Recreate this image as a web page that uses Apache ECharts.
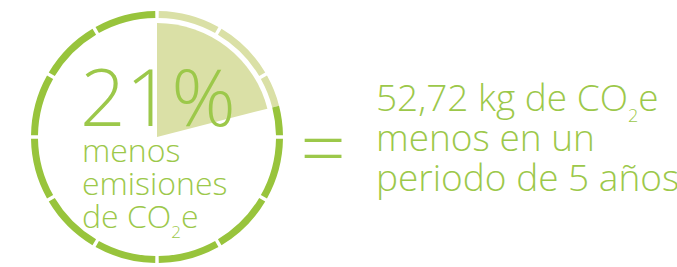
<!DOCTYPE html>
<html>
<head>
<meta charset="utf-8">
<script src="https://cdn.jsdelivr.net/npm/echarts@6/dist/echarts.min.js"></script>
<style>
	html, body { margin: 0; padding: 0; background: #fff; }
	#chart { width: 677px; height: 267px; }
</style>
</head>
<body>
<div id="chart"></div>
<script>
// valores
const share = 21; // % menos emisiones
const ringSegments = 12;
const headline = share + "%";
const leftLines = ["menos", "emisiones", "de CO{sub|2}e"];
const rightLines = ["52,72 kg de CO{sub|2}e", "menos en un", "periodo de 5 años"];

const dark = "#98c43c";
const light = "#dae0a6";
const textColor = "#9cc84a";
const font = "'Open Sans', Roboto, sans-serif";

// anillo segmentado: 12 tramos con huecos, parte clara hasta el porcentaje
function ringData() {
	var gap = 1.6;
	var step = 360 / ringSegments;
	var cut = (share / 100) * 360;
	var res = [];
	var hole = { value: gap / 2, itemStyle: { color: "transparent" } };
	for (let i = 0; i < ringSegments; i++) {
		var a = i * step + gap / 2;
		var b = (i + 1) * step - gap / 2;
		res.push(hole);
		if (cut > a && cut < b) {
			res.push({ value: cut - a, itemStyle: { color: light } });
			res.push({ value: b - cut, itemStyle: { color: dark } });
		} else {
			res.push({ value: b - a, itemStyle: { color: b <= cut ? light : dark } });
		}
		res.push(hole);
	}
	return res;
}

var center = [157, 137];

var option = {
	animation: false,
	series: [
		{
			type: "pie",
			silent: true,
			center: center,
			radius: [0, 114],
			startAngle: 90,
			clockwise: true,
			label: { show: false },
			labelLine: { show: false },
			itemStyle: { borderWidth: 0 },
			data: [
				{ value: share, itemStyle: { color: light } },
				{ value: 100 - share, itemStyle: { color: "transparent" } },
			],
		},
		{
			type: "pie",
			silent: true,
			center: center,
			radius: [119, 126],
			startAngle: 90,
			clockwise: true,
			label: { show: false },
			labelLine: { show: false },
			itemStyle: { borderWidth: 0 },
			data: ringData(),
		},
	],
	graphic: [
		{
			type: "text",
			z: 100,
			x: 80,
			y: 94,
			style: {
				text: headline,
				fill: textColor,
				font: "300 80px " + font,
				verticalAlign: "middle",
			},
		},
		{
			type: "text",
			z: 100,
			x: 82,
			y: 133,
			style: {
				text: leftLines.join("\n"),
				fill: textColor,
				font: "300 32px " + font,
				lineHeight: 33,
				verticalAlign: "top",
				rich: {
					sub: { font: "300 17px " + font, fill: textColor, verticalAlign: "top", padding: [24, 0, 0, 0], lineHeight: 4 },
				},
			},
		},
		{
			type: "text",
			z: 100,
			x: 323,
			y: 144,
			style: {
				text: "=",
				fill: textColor,
				font: "300 80px " + font,
				align: "center",
				verticalAlign: "middle",
			},
		},
		{
			type: "text",
			z: 100,
			x: 376,
			y: 76,
			style: {
				text: rightLines.join("\n"),
				fill: textColor,
				font: "300 37px " + font,
				lineHeight: 40,
				verticalAlign: "top",
				rich: {
					sub: { font: "300 18px " + font, fill: textColor, verticalAlign: "top", padding: [30, 0, 0, 0], lineHeight: 4 },
				},
			},
		},
	],
};

var chart = echarts.init(document.getElementById("chart"), null, { renderer: "svg" });
chart.setOption(option);
</script>
</body>
</html>
